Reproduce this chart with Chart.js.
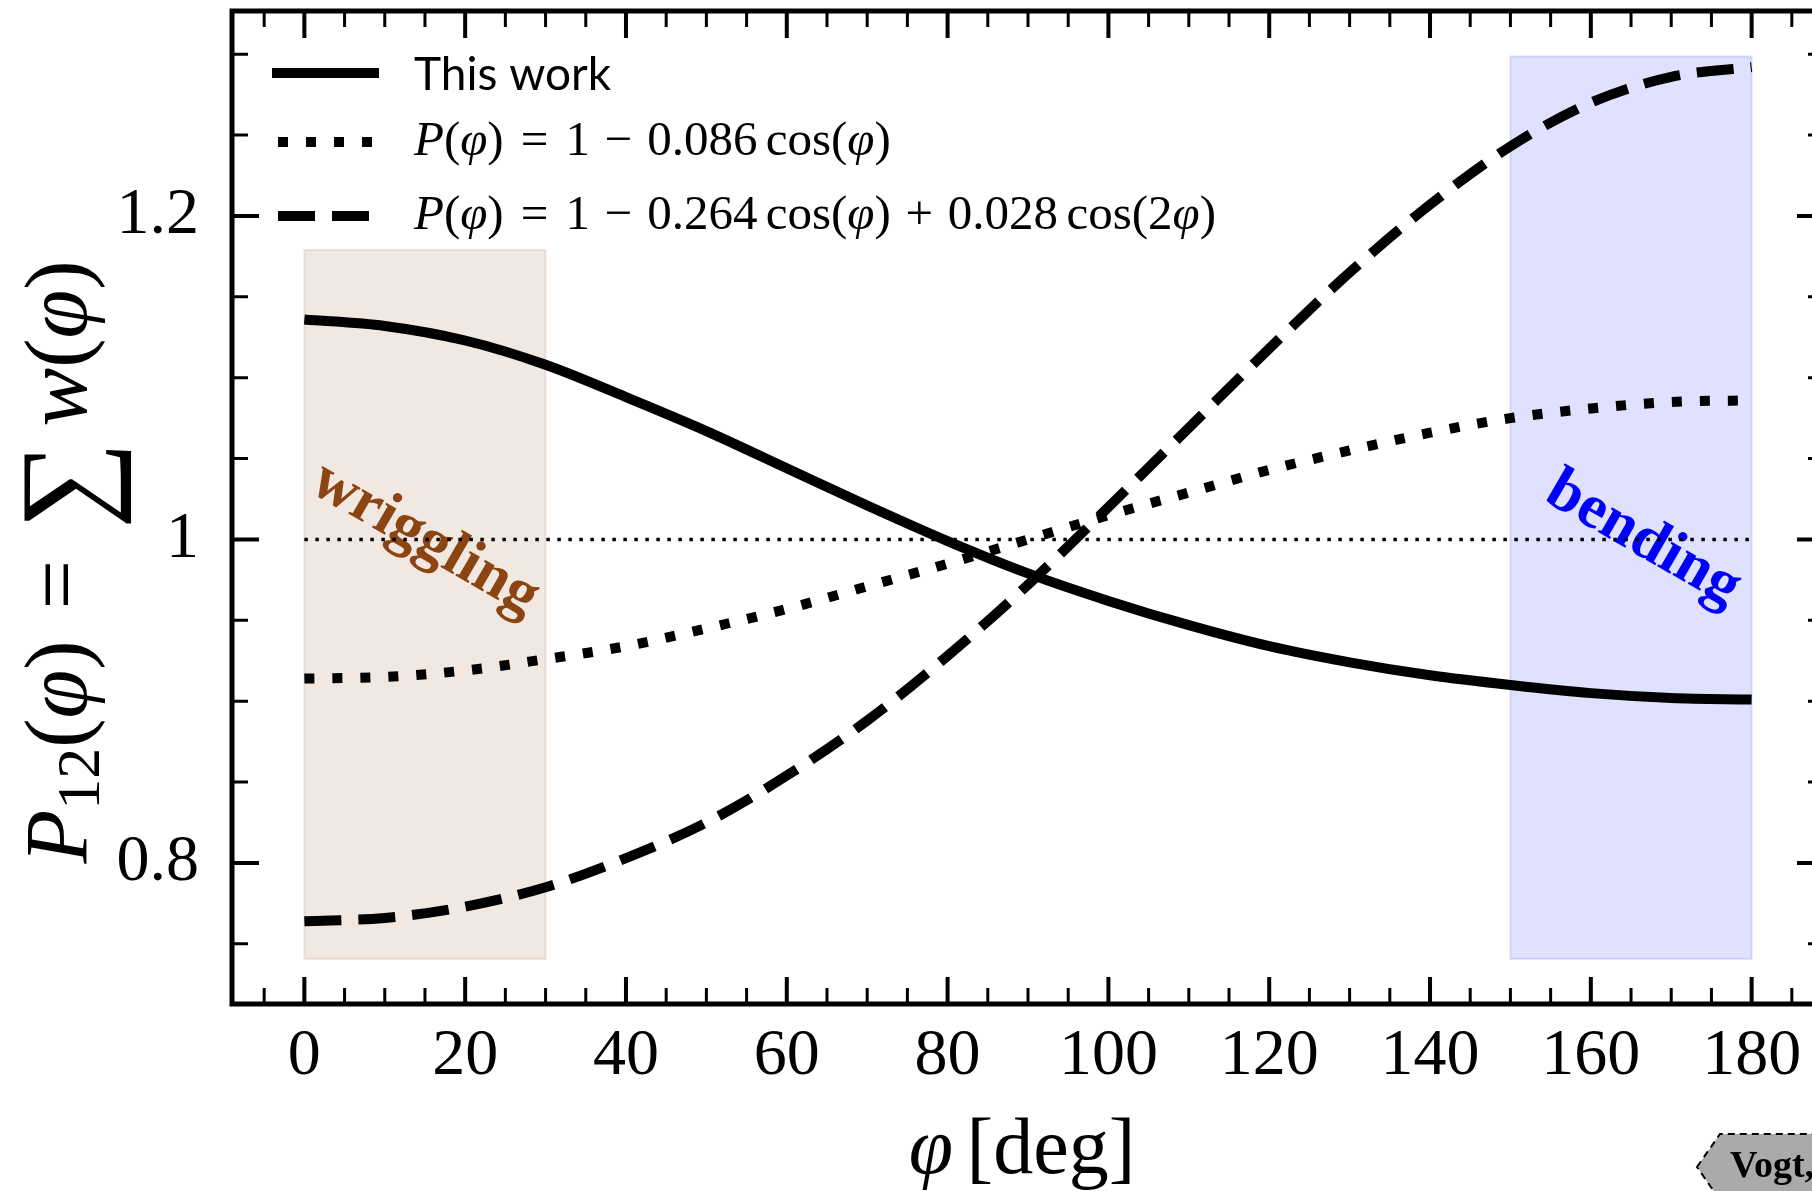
<!DOCTYPE html>
<html>
<head>
<meta charset="utf-8">
<script src="https://cdn.jsdelivr.net/npm/chart.js@4.4.0/dist/chart.umd.min.js"></script>
<style>
html, body { margin: 0; padding: 0; background: #fff; overflow: hidden; }
#wrap { width: 1830px; height: 1191px; }
</style>
</head>
<body>
<div id="wrap"><canvas id="myChart" width="1830" height="1191"></canvas></div>
<script>
// angle in degrees
var angles = [0, 10, 20, 30, 40, 50, 60, 70, 80, 90, 100, 110, 120, 130, 140, 150, 160, 170, 180];
// values
var thisWork = [1.136, 1.132, 1.123, 1.108, 1.088, 1.067, 1.044, 1.021, 0.999, 0.979, 0.962, 0.947, 0.934, 0.924, 0.916, 0.910, 0.905, 0.902, 0.901];
var cosFit = [0.914, 0.915, 0.919, 0.926, 0.934, 0.945, 0.957, 0.971, 0.985, 1.000, 1.015, 1.029, 1.043, 1.055, 1.066, 1.075, 1.081, 1.085, 1.086];
var cos2Fit = [0.764, 0.766, 0.773, 0.785, 0.803, 0.825, 0.854, 0.888, 0.928, 0.972, 1.020, 1.069, 1.118, 1.165, 1.207, 1.243, 1.270, 1.286, 1.292];
var refX = [0, 180];
var refY = [1, 1];

var xTicks = [0, 20, 40, 60, 80, 100, 120, 140, 160, 180];
var yTicks = [0.8, 1.0, 1.2];
var yTickLabels = ['0.8', '1', '1.2'];

// shaded regions
var bandNames = ['wriggling', 'bending'];
var bandFrom = [0, 150];
var bandTo = [30, 180];
var bandLow = [0.7407, 0.7407];
var bandHigh = [1.179, 1.2986];

function pts(xs, ys) {
    return xs.map(function (x, i) { return {x: x, y: ys[i]}; });
}

var SERIF = '"Liberation Serif", "Times New Roman", serif';

function fontFor(p, size) {
    var s = Math.round(size * (p.s || 1));
    return (p.b ? 'bold ' : '') + (p.it ? 'italic ' : '') + s + 'px ' + (p.f || SERIF);
}
function richWidth(ctx, parts, size) {
    var w = 0;
    parts.forEach(function (p) {
        ctx.font = fontFor(p, size);
        w += (p.pre || 0) * size + ctx.measureText(p.t).width + (p.post || 0) * size;
    });
    return w;
}
function drawRich(ctx, parts, x, y, size) {
    parts.forEach(function (p) {
        x += (p.pre || 0) * size;
        ctx.font = fontFor(p, size);
        ctx.fillText(p.t, x, y + (p.dy || 0) * size);
        x += ctx.measureText(p.t).width + (p.post || 0) * size;
    });
    return x;
}

var PHI = '\u03C6';
var legendRows = [
    [{t: 'This work', f: 'Lato, sans-serif'}],
    [{t: 'P', it: 1}, {t: '('}, {t: PHI, it: 1}, {t: ')'}, {t: '=', pre: 0.35, post: 0.35}, {t: '1'},
     {t: '\u2212', pre: 0.3, post: 0.3}, {t: '0.086'}, {t: 'cos', pre: 0.17}, {t: '('}, {t: PHI, it: 1}, {t: ')'}],
    [{t: 'P', it: 1}, {t: '('}, {t: PHI, it: 1}, {t: ')'}, {t: '=', pre: 0.35, post: 0.35}, {t: '1'},
     {t: '\u2212', pre: 0.3, post: 0.3}, {t: '0.264'}, {t: 'cos', pre: 0.17}, {t: '('}, {t: PHI, it: 1}, {t: ')'},
     {t: '+', pre: 0.3, post: 0.3}, {t: '0.028'}, {t: 'cos', pre: 0.17}, {t: '('}, {t: '2'}, {t: PHI, it: 1}, {t: ')'}]
];
var legendDash = [[], [10, 18], [37, 17]];

var bandsPlugin = {
    id: 'bands',
    beforeDatasetsDraw: function (chart) {
        var ctx = chart.ctx, xs = chart.scales.x, ys = chart.scales.y;
        var fills = ['rgba(139,69,19,0.12)', 'rgba(0,0,255,0.12)'];
        var texts = ['#8B4513', '#0000ff'];
        var at = [[15, 1.0], [166.5, 1.0]];
        ctx.save();
        for (var i = 0; i < bandNames.length; i++) {
            var x0 = xs.getPixelForValue(bandFrom[i]), x1 = xs.getPixelForValue(bandTo[i]);
            var y0 = ys.getPixelForValue(bandHigh[i]), y1 = ys.getPixelForValue(bandLow[i]);
            ctx.fillStyle = fills[i];
            ctx.fillRect(x0, y0, x1 - x0, y1 - y0);
            ctx.strokeStyle = fills[i];
            ctx.lineWidth = 2;
            ctx.strokeRect(x0, y0, x1 - x0, y1 - y0);
        }
        for (var j = 0; j < bandNames.length; j++) {
            ctx.save();
            ctx.translate(xs.getPixelForValue(at[j][0]), ys.getPixelForValue(at[j][1]));
            ctx.rotate(30 * Math.PI / 180);
            ctx.fillStyle = texts[j];
            ctx.font = 'bold 62px ' + SERIF;
            ctx.textAlign = 'center';
            ctx.textBaseline = 'middle';
            ctx.fillText(bandNames[j], 0, 0);
            ctx.restore();
        }
        ctx.restore();
    }
};

var framePlugin = {
    id: 'frame',
    afterDatasetsDraw: function (chart) {
        var ctx = chart.ctx, a = chart.chartArea, xs = chart.scales.x, ys = chart.scales.y;
        ctx.save();
        ctx.strokeStyle = '#000';
        ctx.setLineDash([]);
        var k, v, p, major, len;
        for (k = -1; k <= 37; k++) {
            v = k * 5;
            major = xTicks.indexOf(v) >= 0;
            p = xs.getPixelForValue(v);
            len = major ? 27 : 16;
            ctx.lineWidth = major ? 4 : 3;
            ctx.beginPath();
            ctx.moveTo(p, a.bottom); ctx.lineTo(p, a.bottom - len);
            ctx.moveTo(p, a.top); ctx.lineTo(p, a.top + len);
            ctx.stroke();
        }
        for (k = 15; k <= 26; k++) {
            v = k * 0.05;
            major = k % 4 === 0;
            p = ys.getPixelForValue(v);
            len = major ? 27 : 16;
            ctx.lineWidth = major ? 4 : 3;
            ctx.beginPath();
            ctx.moveTo(a.left, p); ctx.lineTo(a.left + len, p);
            ctx.moveTo(a.right, p); ctx.lineTo(a.right - len, p);
            ctx.stroke();
        }
        ctx.lineWidth = 5;
        ctx.strokeRect(a.left, a.top, a.right - a.left, a.bottom - a.top);
        ctx.restore();
    },
    afterDraw: function (chart) {
        var ctx = chart.ctx, a = chart.chartArea;
        ctx.save();
        ctx.fillStyle = '#000';
        ctx.textAlign = 'left';
        ctx.textBaseline = 'alphabetic';

        // legend
        var rowY = [73, 142, 216];
        for (var r = 0; r < legendRows.length; r++) {
            ctx.save();
            ctx.strokeStyle = '#000';
            ctx.lineWidth = 10;
            ctx.lineCap = 'butt';
            ctx.setLineDash(legendDash[r]);
            ctx.beginPath();
            ctx.moveTo(r === 0 ? a.left + 40 : a.left + 46, rowY[r]);
            ctx.lineTo(a.left + 147, rowY[r]);
            ctx.stroke();
            ctx.restore();
            var size = r === 0 ? 46 : 49;
            drawRich(ctx, legendRows[r], a.left + 182, rowY[r] + (r === 0 ? 0.36 : 0.26) * size, size);
        }

        // x title
        var xt = [{t: PHI, it: 1}, {t: '[deg]', pre: 0.17}];
        var xs = 80;
        var w = richWidth(ctx, xt, xs);
        drawRich(ctx, xt, (a.left + a.right) / 2 - 6 - w / 2, 1173, xs);

        // y title
        var yt = [{t: 'P', it: 1}, {t: '12', s: 0.7, dy: 0.15}, {t: '('}, {t: PHI, it: 1}, {t: ')'},
                  {t: '=', pre: 0.35, post: 0.35}, {t: '\u2211', s: 1.4, dy: 0.22, post: 0.17},
                  {t: 'w', it: 1}, {t: '('}, {t: PHI, it: 1}, {t: ')'}];
        var ys = 88;
        var wy = richWidth(ctx, yt, ys);
        ctx.save();
        ctx.translate(86, 562);
        ctx.rotate(-Math.PI / 2);
        drawRich(ctx, yt, -wy / 2, 0, ys);
        ctx.restore();

        // source tag in the corner
        ctx.beginPath();
        ctx.moveTo(1697, 1167);
        ctx.lineTo(1720, 1134);
        ctx.lineTo(1840, 1134);
        ctx.lineTo(1840, 1200);
        ctx.lineTo(1720, 1200);
        ctx.closePath();
        ctx.fillStyle = '#aaaaaa';
        ctx.fill();
        ctx.setLineDash([7, 5]);
        ctx.lineWidth = 2;
        ctx.strokeStyle = '#000';
        ctx.stroke();
        ctx.fillStyle = '#000';
        ctx.font = 'bold 38px ' + SERIF;
        ctx.fillText('Vogt,', 1730, 1177);
        ctx.restore();
    }
};

function noPad(s) {
    s.paddingTop = 0; s.paddingBottom = 0; s.paddingLeft = 0; s.paddingRight = 0;
}

var myChart = new Chart(document.getElementById('myChart'), {
    type: 'line',
    data: {
        datasets: [
            {label: 'This work', data: pts(angles, thisWork), borderColor: '#000', borderWidth: 10,
             pointRadius: 0, fill: false, cubicInterpolationMode: 'monotone', order: 2},
            {label: 'P = 1 - 0.086 cos', data: pts(angles, cosFit), borderColor: '#000', borderWidth: 10,
             borderDash: [10, 18], pointRadius: 0, fill: false, cubicInterpolationMode: 'monotone', order: 1},
            {label: 'P = 1 - 0.264 cos + 0.028 cos2', data: pts(angles, cos2Fit), borderColor: '#000', borderWidth: 10,
             borderDash: [37, 17], pointRadius: 0, fill: false, cubicInterpolationMode: 'monotone', order: 0},
            {label: 'reference', data: pts(refX, refY), borderColor: '#000', borderWidth: 3.5,
             borderDash: [3.5, 7.5], pointRadius: 0, fill: false, order: 3}
        ]
    },
    options: {
        responsive: false,
        animation: false,
        devicePixelRatio: 1,
        layout: {padding: {top: 11, right: 6, left: 0, bottom: 0}},
        plugins: {legend: {display: false}, tooltip: {enabled: false}},
        scales: {
            x: {
                type: 'linear', min: -9, max: 189,
                grid: {display: false, drawTicks: false},
                border: {display: false},
                afterFit: function (s) { s.height = 187; noPad(s); },
                afterBuildTicks: function (s) { s.ticks = xTicks.map(function (v) { return {value: v}; }); },
                ticks: {padding: 13, color: '#000', maxRotation: 0, autoSkip: false,
                        font: {family: SERIF, size: 66},
                        callback: function (v) { return String(v); }}
            },
            y: {
                type: 'linear', min: 0.7128, max: 1.3267,
                grid: {display: false, drawTicks: false},
                border: {display: false},
                afterFit: function (s) { s.width = 232; noPad(s); },
                afterBuildTicks: function (s) { s.ticks = yTicks.map(function (v) { return {value: v}; }); },
                ticks: {padding: 33, color: '#000', autoSkip: false,
                        font: {family: SERIF, size: 66},
                        callback: function (v) {
                            for (var i = 0; i < yTicks.length; i++) {
                                if (Math.abs(yTicks[i] - v) < 1e-6) return yTickLabels[i];
                            }
                            return '';
                        }}
            }
        }
    },
    plugins: [bandsPlugin, framePlugin]
});
</script>
</body>
</html>
